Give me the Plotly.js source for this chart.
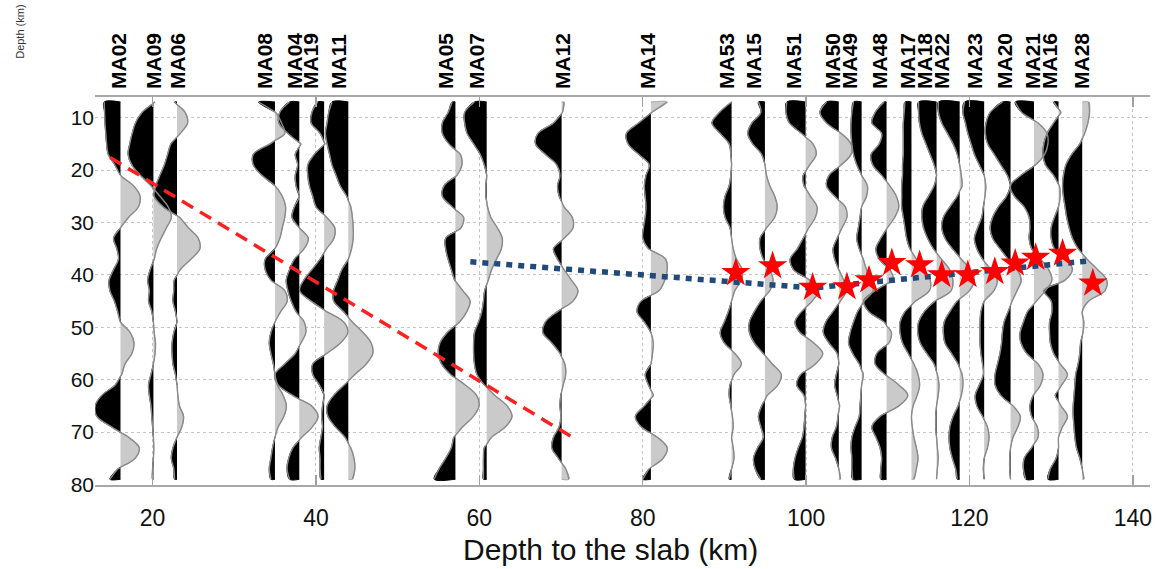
<!DOCTYPE html>
<html><head><meta charset="utf-8">
<script src="https://cdn.plot.ly/plotly-3.0.1.min.js"></script>
<style>html,body{margin:0;padding:0;background:#fff}#chart{width:1156px;height:569px}</style>
</head><body><div id="chart"></div>
<script>
// ---------------- data ----------------
const stations = ["MA02","MA09","MA06","MA08","MA04","MA19","MA11","MA05","MA07","MA12","MA14",
  "MA53","MA15","MA51","MA50","MA49","MA48","MA17","MA18","MA22","MA23","MA20","MA21","MA16","MA28"];
// trace baseline position (km along x axis)
const baseX = [16.07,20.1,22.99,34.98,37.96,41.0,43.96,57.07,60.9,70.07,81.0,
  90.88,94.96,99.94,104.0,106.8,109.85,112.9,115.97,118.8,121.8,125.03,127.9,130.9,133.8];
// station label positions on the top axis
const labelX = [15.9,20.24,23.11,33.83,37.43,39.45,42.89,55.97,59.71,70.23,80.7,
  90.39,93.61,98.53,103.34,105.4,109.06,112.49,114.54,116.6,120.72,124.38,127.81,129.86,133.76];
// depth samples (km)
const depths = [7,9,11,13,15,17,19,21,23,25,27,29,31,33,35,37,39,41,43,45,47,49,51,53,55,57,59,61,63,65,67,69,71,73,75,77,79];
// amplitudes (x-offset, km) per station at the depth samples
const MA02 = [-2.0,-1.95,-1.9,-1.8,-1.7,-1.5,-0.7,0,1.6,2.4,2.2,1.0,0,-0.85,-0.45,-0.25,-0.85,-1.4,-1.3,-0.75,-0.35,0,1.2,1.65,1.4,0.55,0.15,-0.65,-2.3,-3.1,-2.9,-1.1,1.0,2.3,1.8,-0.3,-1.3];
const MA09 = [0.2,-1.4,-2.2,-2.6,-2.9,-3.1,-2.65,-1.6,-0.3,0.8,1.8,2.2,1.6,0.95,0.4,0.1,-0.4,-0.7,-0.5,-0.6,-0.2,0,0.1,0.25,0.2,0,-0.3,-0.6,-0.5,-0.3,-0.2,-0.1,0,0.05,0,-0.1,-0.1];
const MA06 = [-0.3,1.0,1.3,0.4,-0.75,-1.15,-1.55,-2.1,-2.6,-2.8,-1.7,0.3,1.4,2.6,2.8,1.7,0.4,-0.35,-0.4,-0.5,-0.2,0,-0.4,-0.6,-0.6,-0.5,-0.2,0,0.1,0.3,0.8,0.6,0,-0.5,-0.7,-0.4,-0.3];
const MA08 = [-2.0,0.1,0.8,1.2,-0.6,-2.65,-2.65,-1.6,0,0.9,1.3,1.2,0.9,0.6,0,-1.2,-1.2,-0.5,1.2,1.5,0.7,0,-0.5,-0.7,-0.5,-0.2,0,0.3,1.0,1.4,1.1,0.4,0,-0.3,-0.5,-0.7,-0.5];
const MA04 = [-1.2,-2.4,-2.5,-1.4,0.2,-0.5,-0.2,-0.5,-0.4,0,-0.6,-0.9,0,1.1,0.6,-0.6,-1.2,-1.6,-1.4,-1.0,-0.4,0.6,0.8,0.2,-0.5,-1.8,-3.0,-2.6,-0.8,1.5,2.3,1.6,0.3,-0.8,-1.3,-1.5,-1.2];
const MA19 = [-0.8,-1.5,-1.6,-0.5,0.1,-1.2,-2.0,-2.0,-1.8,-1.4,-1.0,0.3,1.3,1.2,0.3,-0.5,-1.5,-2.5,-3.0,-1.6,0.3,2.4,2.9,2.0,0.3,-1.4,-1.4,-0.6,0,-0.2,-0.3,-0.2,-0.4,-0.6,-0.5,-0.5,-0.4];
const MA11 = [-2.0,-2.4,-2.6,-2.8,-2.6,-2.3,-2.0,-1.5,-1.0,-0.2,0.3,0.5,0.6,0.6,0.4,0,-0.8,-1.3,-1.8,-1.8,-0.6,0.5,1.8,2.8,3.0,2.2,0.8,-0.5,-1.8,-2.6,-2.5,-1.6,-0.4,0.3,0.7,0.8,0.5];
const MA05 = [-0.4,-0.9,-1.6,-1.6,-0.8,0.6,0.8,0.2,-1.4,-1.6,-0.4,1.0,0.7,-1.2,-1.2,-0.9,-0.5,-0.1,0.9,1.8,1.4,0.5,-1.0,-1.9,-2.1,-1.7,-0.6,1.2,2.6,2.9,2.2,0.9,-0.2,-0.5,-1.2,-2.0,-2.6];
const MA07 = [-1.5,-2.7,-2.7,-2.4,-1.6,-0.8,-0.3,0,-0.1,-0.1,0.1,0.5,1.3,1.9,1.8,1.2,0.6,0.2,-0.25,-0.4,-0.6,-1.0,-1.5,-1.6,-1.6,-1.5,-1.2,-0.3,1.0,2.5,3.1,2.3,0.6,-0.3,-0.4,-0.4,-0.4];
const MA12 = [0.3,0.1,-1.0,-2.9,-3.2,-2.0,-0.6,-0.2,-0.5,-0.3,0.3,1.3,1.4,0.3,-1.0,-0.5,0.3,1.2,2.0,1.4,-0.5,-2.0,-2.3,-1.2,-0.2,0.4,0.5,0.2,-0.1,-0.2,-0.1,-0.3,-1.0,-1.2,-0.4,0.5,0.9];
const MA14 = [2.0,0.1,-1.5,-3.0,-2.8,-1.5,-0.2,-0.6,-0.8,-0.7,-0.6,-0.7,-0.9,-1.0,-0.3,1.8,2.0,1.7,1.0,-1.2,-1.7,-0.8,0,0.3,0.2,0,-0.7,-0.3,0.3,-0.8,-1.9,-1.2,0.8,2.0,1.5,-0.2,-1.0];
const MA53 = [0,-1.5,-2.4,-1.4,-0.3,-0.1,0,-0.1,-0.3,-0.8,-1.0,-0.8,-0.2,0,0.2,0.6,1.3,1.2,0.4,0,-0.4,-0.9,-1.4,-0.9,0.4,1.2,0.3,-0.2,-0.3,-0.1,0.1,0.2,0,0.2,0.3,0,-0.3];
const MA15 = [-0.8,-0.5,-1.6,-2.1,-1.5,-0.4,0,0.2,0.6,1.2,1.5,1.2,0.2,-0.6,-0.6,-0.2,0.6,1.0,0.6,-0.5,-1.3,-1.9,-1.9,-1.3,-0.2,0.9,2.0,1.6,0.3,-0.4,-0.8,-0.5,-0.2,-0.9,-1.4,-1.2,-0.5];
const MA51 = [-2.3,-2.4,-2.0,-0.5,0.9,1.3,0.5,-0.3,-0.2,0.6,1.4,1.2,0.4,-0.3,-1.0,-1.9,-1.5,0.5,1.6,0.8,-0.5,-1.3,-0.7,1.0,2.1,1.2,-0.6,-1.1,-0.2,0,-0.1,-0.2,-0.4,-0.9,-1.3,-1.5,-1.4];
const MA50 = [-1.5,-2.3,-1.5,0.3,1.5,1.5,0.3,-1.2,-1.5,-0.5,0.8,1.0,0.4,-0.2,-0.7,-0.5,0,0.6,0.9,0.2,-0.7,-1.6,-1.9,-1.2,-0.2,0,-0.3,-0.5,-0.2,0.1,-0.1,-0.3,-0.8,-0.9,-0.4,0,0.2];
const MA49 = [-1.0,-1.2,-1.3,-1.3,-1.2,-1.0,-0.6,0,0.7,0.6,0,-0.2,-0.4,-0.6,-0.3,0.2,0.6,1.2,1.4,0.3,-0.5,-1.0,-1.4,-1.6,-1.1,-0.3,0.2,0,-0.1,-0.2,-0.3,-0.8,-1.2,-1.3,-1.2,-1.2,-1.1];
const MA48 = [-0.3,-1.4,-1.8,-0.6,-0.9,-1.9,-1.7,-0.6,0.4,1.2,1.5,1.0,0.1,-0.7,-1.3,-0.9,0.4,0.8,-1.4,-2.8,-2.2,-0.3,0.6,0.3,-1.2,-1.4,-0.2,1.5,2.6,1.5,-0.8,-1.8,-1.3,-0.8,-0.6,-0.7,-0.7];
const MA17 = [-0.8,-0.9,-1.0,-1.0,-1.0,-1.0,-1.1,-1.1,-1.2,-1.2,-1.2,-1.0,-0.8,-0.6,-0.2,0.6,1.5,2.3,2.2,0.5,-0.8,-1.4,-1.4,-1.1,-0.4,0.3,0.8,1.0,0.7,0.2,0,0.1,0.3,0.6,0.8,0.6,0.3];
const MA18 = [-2.2,-2.2,-2.1,-1.8,-1.3,-0.8,-0.3,0,-0.3,-1.0,-1.7,-1.8,-1.6,-1.1,-0.4,0.6,1.6,2.0,1.8,-0.2,-1.5,-2.2,-2.3,-2.0,-1.2,-0.3,0.1,0.3,0.2,0,-0.1,-0.1,0,0.1,0.2,0.1,0];
const MA22 = [-2.6,-2.6,-2.2,-1.5,-0.8,-0.3,0,0.2,0.3,-0.3,-1.2,-2.0,-2.2,-1.8,-0.9,0.2,1.3,1.8,1.2,-0.3,-1.2,-1.9,-2.0,-1.8,-1.0,-0.2,0.3,0.4,0.2,-0.2,-0.8,-1.2,-1.3,-1.2,-0.9,-0.5,-0.3];
const MA23 = [-2.4,-2.6,-2.3,-2.0,-1.6,-1.2,-0.6,0,0.2,0.1,-0.1,-0.3,-0.8,-1.2,-0.9,-0.2,0.8,1.6,1.2,0,-0.4,-0.5,-0.5,-0.5,-0.4,-0.2,-0.1,-0.6,-1.1,-0.9,-0.2,0.4,0.6,0.4,0,-0.1,0];
const MA20 = [-1.0,-2.5,-3.0,-3.1,-2.8,-2.0,-1.2,-0.4,0,-0.5,-1.5,-2.2,-2.5,-2.2,-1.3,-0.3,0.8,1.3,0.8,0.2,-0.3,-0.8,-1.0,-1.1,-1.3,-1.6,-1.9,-1.9,-1.2,0.3,1.2,0.9,0.3,0,-0.1,-0.1,0];
const MA21 = [-2.3,-1.5,0.5,1.6,1.7,1.3,0.2,-1.6,-2.9,-2.4,-1.2,-0.6,-0.5,-0.6,-0.3,0.8,1.8,2.2,1.4,0.3,-0.8,-1.3,-1.7,-1.6,-0.9,0.5,1.1,0.8,-0.1,-0.5,-0.3,0.4,0.5,-0.3,-1.2,-1.3,-1.0];
const MA16 = [-0.6,0.3,-0.6,-1.4,-1.8,-1.9,-1.6,-0.6,0.1,0.2,0,-0.5,-0.9,-0.9,-0.5,1.0,1.7,0.8,-1.8,-0.9,-0.8,-1.1,-1.1,-1.0,-0.6,0.2,1.1,0.4,-0.4,0.3,1.1,0.5,0,0,-0.3,-1.0,-1.3];
const MA28 = [0.8,0.9,0.7,0.3,-0.3,-1.3,-2.0,-2.3,-2.4,-2.3,-2.1,-1.9,-1.6,-1.2,-0.5,0.6,1.9,3.0,2.8,0.8,0,0.2,0.1,-0.2,-0.3,-0.5,-0.8,-0.9,-1.0,-1.1,-1.1,-1.0,-0.9,-0.7,-0.3,0,0.2];
const amplitudes = [MA02,MA09,MA06,MA08,MA04,MA19,MA11,MA05,MA07,MA12,MA14,MA53,MA15,MA51,MA50,MA49,MA48,MA17,MA18,MA22,MA23,MA20,MA21,MA16,MA28];

// picked slab arrivals (red stars)
const starX = [91.4,95.9,100.8,105.0,107.7,110.5,113.9,116.6,119.8,123.1,125.6,128.1,131.4,135.1];
const starDepth = [39.6,38.3,42.4,42.3,41.0,37.7,38.1,40.0,40.0,39.4,37.8,36.7,35.9,41.6];
// red dashed line
const slabX = [14.8,71.3];
const slabDepth = [17.6,70.9];
// blue dotted line
const mohoX = [58.9,100.8,134.8];
const mohoDepth = [37.5,42.5,37.3];

const xTicks = [20,40,60,80,100,120,140];
const yTicks = [10,20,30,40,50,60,70,80];

// ---------------- build wiggle geometry ----------------
const pos = {x:[],y:[]}, neg = {x:[],y:[]}, wig = {x:[],y:[]};
stations.forEach((st, k) => {
  const base = baseX[k], a = amplitudes[k];
  const pts = [];
  for (let i = 0; i < depths.length; i++) {
    if (i > 0) {
      const a0 = a[i-1], a1 = a[i];
      if ((a0 > 0 && a1 < 0) || (a0 < 0 && a1 > 0)) {
        const t = a0 / (a0 - a1);
        pts.push([0, depths[i-1] + t * (depths[i] - depths[i-1])]);
      }
    }
    pts.push([a[i], depths[i]]);
  }
  pts.forEach(p => { wig.x.push(base + p[0]); wig.y.push(p[1]); });
  wig.x.push(null); wig.y.push(null);
  let cur = null, lastZero = null;
  const flush = (endD) => {
    if (!cur) return;
    const tg = cur.sign > 0 ? pos : neg;
    tg.x.push(base); tg.y.push(cur.start);
    cur.pts.forEach(p => { tg.x.push(base + p[0]); tg.y.push(p[1]); });
    tg.x.push(base); tg.y.push(endD);
    tg.x.push(null); tg.y.push(null);
    cur = null;
  };
  pts.forEach(([v, d]) => {
    const s = v > 0 ? 1 : (v < 0 ? -1 : 0);
    if (s === 0) { flush(d); lastZero = d; return; }
    if (!cur) { cur = {sign: s, start: (lastZero !== null ? lastZero : d), pts: []}; }
    cur.pts.push([v, d]);
    lastZero = null;
  });
  flush(depths[depths.length-1]);
});

const FONT = 'Arial, "Liberation Sans", Helvetica, sans-serif';
const traces = [
  {x: pos.x, y: pos.y, mode: 'lines', fill: 'toself', fillcolor: '#cacaca',
   line: {color: '#9a9a9a', width: 0.8, shape: 'spline', smoothing: 1}, hoverinfo: 'skip', connectgaps: false},
  {x: neg.x, y: neg.y, mode: 'lines', fill: 'toself', fillcolor: '#000000',
   line: {color: '#000000', width: 1, shape: 'spline', smoothing: 1}, hoverinfo: 'skip', connectgaps: false},
  {x: wig.x, y: wig.y, mode: 'lines',
   line: {color: '#8a8a8a', width: 1.4, shape: 'spline', smoothing: 1}, hoverinfo: 'skip', connectgaps: false},
  {x: slabX, y: slabDepth, mode: 'lines', line: {color: '#ff2020', width: 3.5, dash: '13px,8px'}},
  {x: mohoX, y: mohoDepth, mode: 'lines', line: {color: '#1f4a7a', width: 5.5, dash: '6px,6px'}},
  {x: starX, y: starDepth, mode: 'markers', marker: {symbol: 'star', size: 22, color: '#ff0000', line: {width: 0}}},
  {x: labelX, y: labelX.map(() => null), xaxis: 'x2', mode: 'markers', marker: {opacity: 0}, hoverinfo: 'skip'}
];

const layout = {
  width: 1156, height: 569,
  margin: {l: 95, r: 6, t: 97, b: 84},
  paper_bgcolor: '#ffffff', plot_bgcolor: '#ffffff',
  showlegend: false,
  font: {family: FONT, color: '#111'},
  xaxis: {
    range: [12.95, 142.1], tickvals: xTicks, ticktext: xTicks.map(String),
    ticks: 'inside', ticklen: 10, tickwidth: 1.5, tickcolor: '#a0a0a0',
    showline: true, linecolor: '#a8a8a8', linewidth: 2, mirror: 'ticks',
    showgrid: true, gridcolor: '#c4c4c4', gridwidth: 1, griddash: 'dot',
    zeroline: false, tickfont: {size: 23, family: FONT, color: '#111'},
    ticklabelstandoff: 11
  },
  xaxis2: {
    overlaying: 'x', side: 'top', range: [12.95, 142.1],
    tickvals: labelX, ticktext: stations, tickangle: -90,
    showgrid: false, showline: false, zeroline: false, ticks: '',
    tickfont: {size: 21, family: FONT, color: '#000', weight: 'bold'},
    ticklabelstandoff: 7
  },
  yaxis: {
    range: [80.1, 6.05], tickvals: yTicks, ticktext: yTicks.map(String),
    ticks: '', showline: false, zeroline: false,
    showgrid: true, gridcolor: '#c4c4c4', gridwidth: 1, griddash: 'dot',
    tickfont: {size: 21, family: FONT, color: '#111'}
  },
  annotations: [
    {text: 'Depth to the slab (km)', xref: 'paper', yref: 'paper', x: 0.489, y: -0.165,
     xanchor: 'center', yanchor: 'middle', showarrow: false, font: {size: 30, family: FONT, color: '#111'}},
    {text: 'Depth (km)', xref: 'paper', yref: 'paper', x: -0.0711, y: 1.168, textangle: -90,
     xanchor: 'center', yanchor: 'middle', showarrow: false, font: {size: 11, family: FONT, color: '#333'}}
  ]
};

Plotly.newPlot('chart', traces, layout, {displayModeBar: false, staticPlot: true});
</script>
</body></html>
